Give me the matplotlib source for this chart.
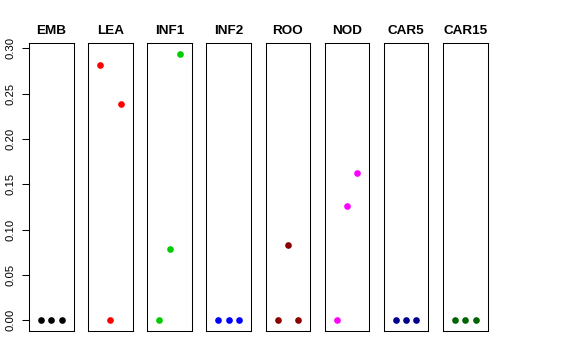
import matplotlib
matplotlib.use("Agg")
import matplotlib.pyplot as plt

plt.rcParams['font.family'] = ['Liberation Sans', 'DejaVu Sans']

tissues = ['EMB', 'LEA', 'INF1', 'INF2', 'ROO', 'NOD', 'CAR5', 'CAR15']
colors = ['#000000', '#FF0000', '#00CD00', '#0000FF', '#8B0000', '#FF00FF', '#00008B', '#006400']
replicates = [1, 2, 3]
emb = [0.0, 0.0, 0.0]
lea = [0.281, 0.0, 0.238]
inf1 = [0.0, 0.079, 0.294]
inf2 = [0.0, 0.0, 0.0]
roo = [0.0, 0.083, 0.0]
nod = [0.0, 0.126, 0.162]
car5 = [0.0, 0.0, 0.0]
car15 = [0.0, 0.0, 0.0]
values = [emb, lea, inf1, inf2, roo, nod, car5, car15]
yticks = [0.00, 0.05, 0.10, 0.15, 0.20, 0.25, 0.30]
ytick_labels = ['0.00', '0.05', '0.10', '0.15', '0.20', '0.25', '0.30']

W, H = 576, 360
fig = plt.figure(figsize=(W / 100, H / 100), dpi=100)

ymin = min(min(v) for v in values)
ymax = max(max(v) for v in values)
yr = ymax - ymin
ylim = (ymin - 0.04 * yr, ymax + 0.04 * yr)
xlim = (0 - 0.04 * 4, 4 + 0.04 * 4)

left0 = 29.0
step = 59.15
pw = 44.5
top_px = 43.0
bot_px = 331.0

for i, (name, col, vals) in enumerate(zip(tissues, colors, values)):
    l = left0 + i * step
    ax = fig.add_axes([l / W, (H - bot_px) / H, pw / W, (bot_px - top_px) / H])
    ax.plot(replicates, vals, 'o', color=col, markersize=4.8, markeredgewidth=0)
    ax.set_xlim(*xlim)
    ax.set_ylim(*ylim)
    ax.set_xticks([])
    for s in ax.spines.values():
        s.set_linewidth(0.75)
        s.set_color('black')
    ax.set_title(name, fontsize=9.7, fontweight='bold', pad=6.3)
    if i == 0:
        ax.set_yticks(yticks)
        ax.set_yticklabels(ytick_labels, rotation=90, va='center', fontsize=8.1)
        ax.tick_params(axis='y', length=5, width=0.75, pad=5)
    else:
        ax.set_yticks([])

fig.savefig('out.png', dpi=100)
